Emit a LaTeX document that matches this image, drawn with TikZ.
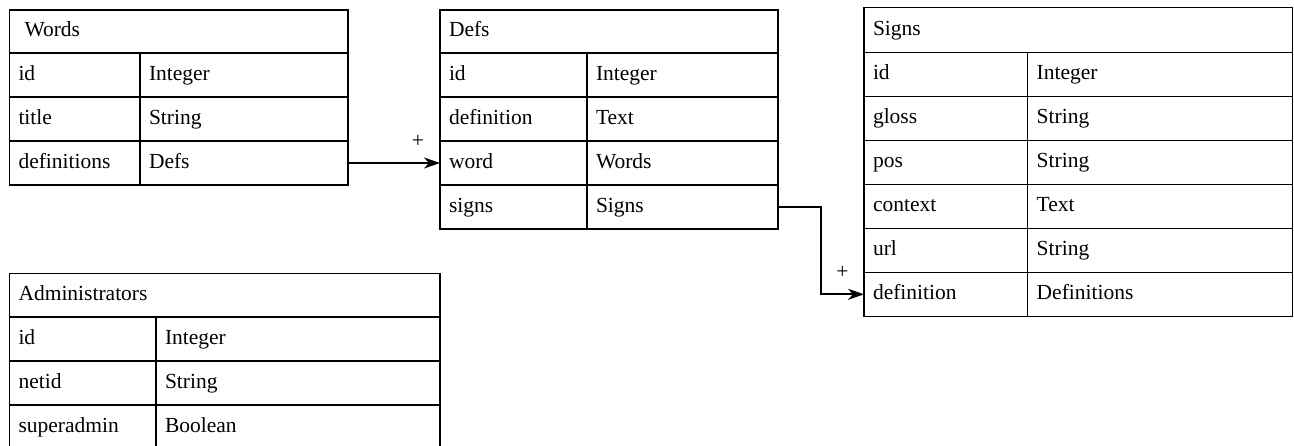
\documentclass[tikz,border=0pt]{standalone}
\usepackage{fontspec}
\setmainfont{Liberation Serif}
\usetikzlibrary{arrows.meta, positioning}

\begin{document}
\begin{tikzpicture}[
        every node/.style={font=\fontsize{10.75}{13}\selectfont},
        cell/.style={rectangle, draw, line width=0.7pt, inner xsep=4.5pt, inner ysep=0pt, outer sep=0pt, align=left, minimum height=22pt, text height=1.6ex, text depth=0.45ex},
        tablehead/.style={cell, text width=#1},
        field/.style={cell, text width=#1},
        link/.style={-{Stealth[length=8pt, width=5.5pt, inset=2.5pt]}, line width=1pt}
    ]
        \useasboundingbox (0,0) rectangle (647pt,-222.5pt);

        % Words
        \node[tablehead=160.25pt, minimum height=21.5pt, anchor=north west] (words) at (4.75pt,-5pt) {\hspace*{3pt}Words};
        \node[field=56.25pt, below right=0pt and 0pt of words.south west] (words-id) {id};
        \node[field=95pt, right=0pt of words-id] (words-id-type) {Integer};
        \node[field=56.25pt, below=0pt of words-id] (words-title) {title};
        \node[field=95pt, right=0pt of words-title] (words-title-type) {String};
        \node[field=56.25pt, below=0pt of words-title] (words-definitions) {definitions};
        \node[field=95pt, right=0pt of words-definitions] (words-definitions-type) {Defs};

        % Defs
        \node[tablehead=160pt, minimum height=21.5pt, anchor=north west] (defs) at (220pt,-5pt) {Defs};
        \node[field=64.5pt, below right=0pt and 0pt of defs.south west] (defs-id) {id};
        \node[field=86.5pt, right=0pt of defs-id] (defs-id-type) {Integer};
        \node[field=64.5pt, below=0pt of defs-id] (defs-definition) {definition};
        \node[field=86.5pt, right=0pt of defs-definition] (defs-definition-type) {Text};
        \node[field=64.5pt, below=0pt of defs-definition] (defs-word) {word};
        \node[field=86.5pt, right=0pt of defs-word] (defs-word-type) {Words};
        \node[field=64.5pt, below=0pt of defs-word] (defs-signs) {signs};
        \node[field=86.5pt, right=0pt of defs-signs] (defs-signs-type) {Signs};

        % Signs
        \begin{scope}[every node/.append style={minimum height=21.85pt}]
        \node[tablehead=205.25pt, minimum height=22.4pt, anchor=north west] (signs) at (432pt,-3.75pt) {Signs};
        \node[field=72.85pt, below right=0pt and 0pt of signs.south west] (signs-id) {id};
        \node[field=123.4pt, right=0pt of signs-id] (signs-id-type) {Integer};
        \node[field=72.85pt, below=0pt of signs-id] (signs-gloss) {gloss};
        \node[field=123.4pt, right=0pt of signs-gloss] (signs-gloss-type) {String};
        \node[field=72.85pt, below=0pt of signs-gloss] (signs-pos) {pos};
        \node[field=123.4pt, right=0pt of signs-pos] (signs-pos-type) {String};
        \node[field=72.85pt, below=0pt of signs-pos] (signs-context) {context};
        \node[field=123.4pt, right=0pt of signs-context] (signs-context-type) {Text};
        \node[field=72.85pt, below=0pt of signs-context] (signs-url) {url};
        \node[field=123.4pt, right=0pt of signs-url] (signs-url-type) {String};
        \node[field=72.85pt, below=0pt of signs-url] (signs-definition) {definition};
        \node[field=123.4pt, right=0pt of signs-definition] (signs-definition-type) {Definitions};
        \end{scope}

        % Administrators
        \node[tablehead=206.25pt, minimum height=21.75pt, anchor=north west] (admins) at (4.75pt,-136.75pt) {Administrators};
        \node[field=64.25pt, below right=0pt and 0pt of admins.south west] (admins-id) {id};
        \node[field=133pt, right=0pt of admins-id] (admins-id-type) {Integer};
        \node[field=64.25pt, below=0pt of admins-id] (admins-netid) {netid};
        \node[field=133pt, right=0pt of admins-netid] (admins-netid-type) {String};
        \node[field=64.25pt, below=0pt of admins-netid] (admins-superadmin) {superadmin};
        \node[field=133pt, right=0pt of admins-superadmin] (admins-superadmin-type) {Boolean};

        \draw[link] (words-definitions-type.east) -- node[pos=0.76, above=4pt]{+} (defs-word.west);
        \draw[link] (defs-signs-type.east) -- ++(21.5pt,0) |- node[pos=0.75, above=4pt]{+} (signs-definition.west);
    \end{tikzpicture}
\end{document}
